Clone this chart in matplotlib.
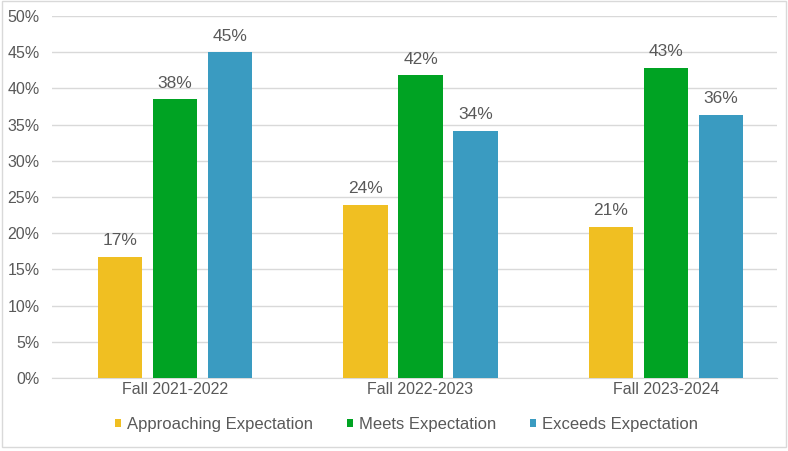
import numpy as np
import matplotlib.pyplot as plt
from matplotlib.patches import Rectangle

plt.rcParams['font.family'] = ['Liberation Sans', 'DejaVu Sans']

periods = ['Fall 2021-2022', 'Fall 2022-2023', 'Fall 2023-2024']
series = ['Approaching Expectation', 'Meets Expectation', 'Exceeds Expectation']
approaching = [16.7, 23.9, 20.9]
meets = [38.5, 41.8, 42.8]
exceeds = [45.0, 34.1, 36.3]
labels_approaching = ['17%', '24%', '21%']
labels_meets = ['38%', '42%', '43%']
labels_exceeds = ['45%', '34%', '36%']

colors = ['#F0BF22', '#00A323', '#3A9BC1']
txt = '#595959'

fig = plt.figure(figsize=(7.88, 4.51), dpi=100)
fig.patches.append(Rectangle((0.003, 0.008), 0.994, 0.99, transform=fig.transFigure,
                             fill=False, edgecolor='#d9d9d9', lw=1))
ax = fig.add_axes([0.066, 0.162, 0.92, 0.8025])

x = np.arange(len(periods))
step = 0.224
w = 0.18
data = [approaching, meets, exceeds]
lbls = [labels_approaching, labels_meets, labels_exceeds]
for i, (vals, lab) in enumerate(zip(data, lbls)):
    bars = ax.bar(x + (i - 1) * step, vals, w, color=colors[i], label=series[i], zorder=3)
    for b, t in zip(bars, lab):
        ax.text(b.get_x() + b.get_width() / 2, b.get_height() + 1.2, t,
                ha='center', va='bottom', fontsize=12.5, color=txt)

ax.set_ylim(0, 50)
ax.set_xlim(-0.501, 2.452)
ax.set_yticks(range(0, 51, 5))
ax.set_yticklabels([f'{v}%' for v in range(0, 51, 5)])
ax.set_xticks(x)
ax.set_xticklabels(periods)
ax.tick_params(axis='both', length=0, colors=txt, labelsize=11.5)
ax.tick_params(axis='y', pad=9)
ax.tick_params(axis='x', pad=3)
ax.grid(axis='y', color='#d9d9d9', lw=1, zorder=0)
for s in ['top', 'right', 'left']:
    ax.spines[s].set_visible(False)
ax.spines['bottom'].set_color('#d9d9d9')

fig.legend(loc='center', bbox_to_anchor=(0.516, 0.058), ncol=3, frameon=False,
           handlelength=0.35, handleheight=0.35, handletextpad=0.4, columnspacing=2.0,
           fontsize=12, labelcolor=txt)

fig.savefig('out.png', dpi=100)
